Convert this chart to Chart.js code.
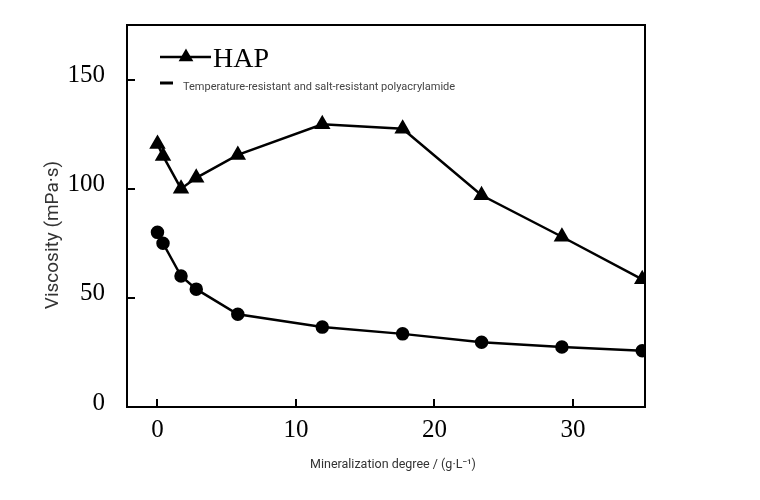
<!DOCTYPE html>
<html>
<head>
<meta charset="utf-8">
<script src="https://cdn.jsdelivr.net/npm/chart.js@4"></script>
<style>
  html, body { margin: 0; padding: 0; background: #fff; }
  #wrap { width: 760px; height: 500px; }
</style>
</head>
<body>
<div id="wrap"><canvas id="chart"></canvas></div>
<script>
// Mineralization degree (g/L)
const mineralization = [0, 0.4, 1.7, 2.8, 5.8, 11.9, 17.7, 23.4, 29.2, 35];
// Viscosity (mPa·s)
const hap = [120.5, 115, 100, 105, 115.5, 129.5, 127.5, 97, 78, 58.5];
const polyacrylamide = [80, 75, 60, 54, 42.5, 36.6, 33.5, 29.7, 27.5, 25.8];
const xTicks = [0, 10, 20, 30];
const yTicks = [0, 50, 100, 150];

const legendNames = ["HAP", "Temperature-resistant and salt-resistant polyacrylamide"];
const xTitle = "Mineralization degree / (g·L⁻¹)";
const yTitle = "Viscosity (mPa·s)";

function toPoints(xs, ys) {
  return xs.map((x, i) => ({ x: x, y: ys[i] }));
}

function noPadding(s) {
  s.paddingTop = 0;
  s.paddingBottom = 0;
  s.paddingLeft = 0;
  s.paddingRight = 0;
}

// frame, inward ticks, axis titles and legend
const framePlugin = {
  id: "frame",
  afterDraw(chart) {
    const ctx = chart.ctx;
    const a = chart.chartArea;
    const xs = chart.scales.x;
    const ys = chart.scales.y;
    ctx.save();
    ctx.strokeStyle = "#000";
    ctx.lineWidth = 2;
    ctx.strokeRect(a.left, a.top, a.right - a.left, a.bottom - a.top);
    ctx.beginPath();
    for (const v of xTicks) {
      const px = Math.round(xs.getPixelForValue(v));
      ctx.moveTo(px, a.bottom);
      ctx.lineTo(px, a.bottom - 8);
    }
    for (const v of yTicks) {
      const py = Math.round(ys.getPixelForValue(v));
      ctx.moveTo(a.left, py);
      ctx.lineTo(a.left + 8, py);
    }
    ctx.stroke();

    // axis titles
    ctx.fillStyle = "#333";
    ctx.textAlign = "center";
    ctx.textBaseline = "middle";
    ctx.font = "12.5px Roboto";
    ctx.fillText(xTitle, 393, 465);
    ctx.save();
    ctx.translate(53, 235);
    ctx.rotate(-Math.PI / 2);
    ctx.font = "19px Roboto";
    ctx.fillText(yTitle, 0, 0);
    ctx.restore();

    // legend
    ctx.textAlign = "left";
    ctx.strokeStyle = "#000";
    ctx.lineWidth = 2.5;
    ctx.beginPath();
    ctx.moveTo(160, 57);
    ctx.lineTo(211, 57);
    ctx.stroke();
    ctx.fillStyle = "#000";
    Chart.helpers.drawPoint(ctx, { pointStyle: "triangle", radius: 6, borderWidth: 1 }, 186, 57);
    ctx.fill();
    ctx.font = "28px 'Liberation Serif'";
    ctx.textBaseline = "alphabetic";
    ctx.fillText(legendNames[0], 213, 67);

    ctx.lineWidth = 3;
    ctx.beginPath();
    ctx.moveTo(160, 83);
    ctx.lineTo(173, 83);
    ctx.stroke();
    ctx.fillStyle = "#444";
    ctx.font = "11px Roboto";
    ctx.textBaseline = "middle";
    ctx.fillText(legendNames[1], 183, 87);
    ctx.restore();
  }
};

new Chart(document.getElementById("chart"), {
  type: "line",
  data: {
    datasets: [
      {
        label: legendNames[0],
        data: toPoints(mineralization, hap),
        borderColor: "#000",
        backgroundColor: "#000",
        borderWidth: 2.5,
        pointStyle: "triangle",
        pointRadius: 7,
        pointHoverRadius: 7,
        tension: 0
      },
      {
        label: legendNames[1],
        data: toPoints(mineralization, polyacrylamide),
        borderColor: "#000",
        backgroundColor: "#000",
        borderWidth: 2.5,
        pointStyle: "circle",
        pointRadius: 5.5,
        pointHoverRadius: 5.5,
        tension: 0
      }
    ]
  },
  options: {
    responsive: true,
    maintainAspectRatio: false,
    animation: false,
    layout: { padding: { left: 0, right: 115, top: 25, bottom: 0 } },
    plugins: {
      legend: { display: false },
      tooltip: { enabled: false }
    },
    scales: {
      x: {
        type: "linear",
        min: -2.2,
        max: 35.2,
        afterBuildTicks: s => { s.ticks = xTicks.map(v => ({ value: v })); },
        afterFit: s => { s.height = 93; noPadding(s); },
        grid: { display: false },
        border: { display: false },
        ticks: {
          color: "#000",
          padding: 0,
          font: { family: "'Liberation Serif'", size: 25 }
        },
        title: { display: false }
      },
      y: {
        min: 0,
        max: 175,
        afterBuildTicks: s => { s.ticks = yTicks.map(v => ({ value: v })); },
        afterFit: s => { s.width = 127; noPadding(s); },
        grid: { display: false },
        border: { display: false },
        ticks: {
          color: "#000",
          padding: 14,
          labelOffset: -4,
          font: { family: "'Liberation Serif'", size: 25 }
        },
        title: { display: false }
      }
    }
  },
  plugins: [framePlugin]
});
</script>
</body>
</html>
